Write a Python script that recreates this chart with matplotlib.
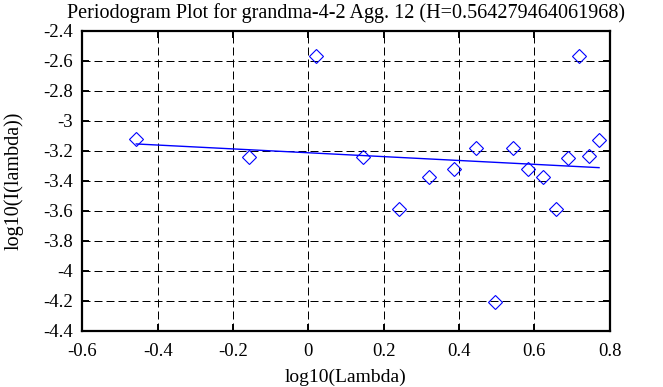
import matplotlib
matplotlib.use("Agg")
import matplotlib.pyplot as plt

# log10 frequency vs log10 periodogram
log_lambda = [-0.457, -0.157, 0.020, 0.144, 0.242, 0.320, 0.386, 0.444, 0.497,
              0.543, 0.582, 0.622, 0.657, 0.689, 0.718, 0.746, 0.772]
log_I = [-3.124, -3.240, -2.567, -3.244, -3.589, -3.373, -3.322, -3.180, -4.211,
         -3.180, -3.324, -3.373, -3.589, -3.247, -2.567, -3.235, -3.129]

# least squares fit line end points
fit_x = [-0.457, 0.772]
fit_y = [-3.155, -3.313]

title = "Periodogram Plot for grandma-4-2 Agg. 12 (H=0.564279464061968)"

plt.rcParams['font.family'] = ['Liberation Serif', 'DejaVu Serif']

fig = plt.figure(figsize=(6.63, 3.87), dpi=100)
ax = fig.add_axes([82.4 / 663, 1 - 330.7 / 387, 527.2 / 663, 300 / 387])

ax.plot(fit_x, fit_y, color='#0000ff', lw=1.0)
ax.plot(log_lambda, log_I, linestyle='none', marker='D', ms=7.2,
        mfc='none', mec='#0000ff', mew=0.8)

ax.set_xlim(-0.6, 0.8)
ax.set_ylim(-4.4, -2.4)
ax.set_xticks([-0.6, -0.4, -0.2, 0, 0.2, 0.4, 0.6, 0.8])
ax.set_xticklabels(['-0.6', '-0.4', '-0.2', '0', '0.2', '0.4', '0.6', '0.8'])
yt = [-4.4, -4.2, -4, -3.8, -3.6, -3.4, -3.2, -3, -2.8, -2.6, -2.4]
ax.set_yticks(yt)
ax.set_yticklabels(['-4.4', '-4.2', '-4', '-3.8', '-3.6', '-3.4', '-3.2', '-3',
                    '-2.8', '-2.6', '-2.4'])

ax.grid(True, color='black', lw=0.72, linestyle=(0, (8, 4)))
ax.tick_params(direction='in', length=5, width=1.4, top=True, right=True,
               labelsize=13.5, colors='black')
ax.tick_params(axis='x', pad=9)
ax.tick_params(axis='y', pad=7)
for s in ax.spines.values():
    s.set_linewidth(1.6)

ax.set_xlabel('log10(Lambda)', fontsize=14, labelpad=6)
ax.set_ylabel('log10(I(lambda))', fontsize=14.5, labelpad=14)
ax.set_title(title, fontsize=14.5, pad=9.5)

fig.savefig('out.png', dpi=100)
